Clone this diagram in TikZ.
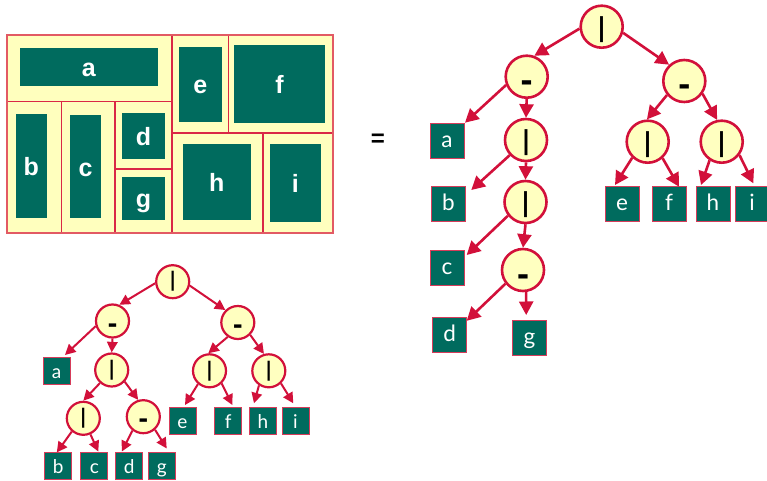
\documentclass[tikz,border=0pt]{standalone}
\usepackage{fontspec}
\setmainfont{Lato}
\newfontfamily\lsans{Liberation Sans}
\newfontfamily\dejav{DejaVu Sans}
\usetikzlibrary{arrows.meta}
\definecolor{crim}{RGB}{210,16,58}
\definecolor{cream}{RGB}{255,255,192}
\definecolor{laycream}{RGB}{255,255,190}
\definecolor{tgreen}{RGB}{0,107,94}
\definecolor{bborder}{RGB}{214,60,90}
\definecolor{layline}{RGB}{218,40,70}
\definecolor{layborder}{RGB}{226,90,100}
\newcommand\opV{\raisebox{-0.36em}{|}}
\newcommand\opH{\raisebox{-0.5em}{-}}
\newcommand\sopV{\raisebox{-0.26em}{|}}
\newcommand\sopH{\raisebox{-0.47em}{-}}
\tikzset{
  bcirc/.style={circle, draw=crim, line width=2.6pt, fill=cream, minimum size=42pt,
    inner sep=0pt, text height=0pt, text depth=0pt, font=\dejav\bfseries\fontsize{26}{26}\selectfont},
  bcircH/.style={bcirc, font=\dejav\bfseries\fontsize{30}{30}\selectfont},
  scirc/.style={circle, draw=crim, line width=2.2pt, fill=cream, minimum size=33pt,
    inner sep=0pt, text height=0pt, text depth=0pt, font=\dejav\bfseries\fontsize{20}{20}\selectfont},
  scircH/.style={scirc, font=\dejav\bfseries\fontsize{24}{24}\selectfont},
  bbox/.style={rectangle, fill=tgreen, draw=bborder, line width=1pt, minimum width=34pt,
    minimum height=35pt, inner sep=0pt, outer sep=0pt, text=white,
    text height=13.4pt, text depth=0pt, font=\fontsize{22.5}{22.5}\selectfont},
  sbox/.style={rectangle, fill=tgreen, draw=bborder, line width=0.9pt, minimum width=27pt,
    minimum height=27pt, inner sep=0pt, outer sep=0pt, text=white,
    text height=15pt, text depth=0pt, font=\fontsize{19}{19}\selectfont},
  lbox/.style={rectangle, fill=tgreen, inner sep=0pt, outer sep=0pt, text=white,
    text height=19pt, text depth=0pt, font=\lsans\bfseries\fontsize{25}{25}\selectfont},
  barrow/.style={draw=crim, line width=2.6pt, -{Triangle[length=13.5pt,width=14pt]}},
  sarrow/.style={draw=crim, line width=2pt, -{Triangle[length=10.5pt,width=10.5pt]}},
  layln/.style={draw=layline, line width=1.3pt},
}
\begin{document}
\begin{tikzpicture}[x=1pt,y=-1pt]
\useasboundingbox (0,0) rectangle (767,481);
% ---------- layout ----------
\fill[laycream] (6.7,35) rectangle (333,233);
\draw[layln] (172,35) -- (172,233);
\draw[layln] (6.7,101.7) -- (172,101.7);
\draw[layln] (61.7,101.7) -- (61.7,233);
\draw[layln] (115,101.7) -- (115,233);
\draw[layln] (115,169) -- (172,169);
\draw[layln] (228.7,35) -- (228.7,133);
\draw[layln] (172,133) -- (333,133);
\draw[layln] (263,133) -- (263,233);
\draw[draw=layborder, line width=1.6pt] (6.7,35) rectangle (333,233);
\node[lbox, minimum width=137.7pt, minimum height=38.3pt] (la) at (88.8,66.8) {a};
\node[lbox, minimum width=42.7pt, minimum height=74.7pt] (le) at (200.3,84.3) {e};
\node[lbox, minimum width=91pt, minimum height=77.7pt] (lf) at (279.5,83.8) {f};
\node[lbox, minimum width=30.7pt, minimum height=103.7pt] (lb) at (31.3,165.8) {b};
\node[lbox, minimum width=31pt, minimum height=103.3pt] (lc) at (85.5,166.7) {c};
\node[lbox, minimum width=43pt, minimum height=46pt] (ld) at (143.5,136) {d};
\node[lbox, minimum width=43pt, minimum height=42.7pt] (lg) at (143.5,198.3) {g};
\node[lbox, minimum width=68pt, minimum height=75.7pt] (lh) at (216.7,181.8) {h};
\node[lbox, minimum width=50.7pt, minimum height=77.7pt] (li) at (295.3,182.8) {i};
% equal sign
\node[font=\lsans\bfseries\fontsize{24}{24}\selectfont] (eq) at (378,140) {=};
% ---------- big tree ----------
\node[bcirc] (root) at (601.7,26.7) {\opV};
\node[bcircH] (L) at (526.7,76.7) {\opH};
\node[bcircH] (R) at (684.3,81) {\opH};
\node[bcirc] (L2) at (526,140) {\opV};
\node[bcirc] (L3) at (525.5,202) {\opV};
\node[bcircH] (M) at (523,270) {\opH};
\node[bcirc] (E) at (647.7,141.7) {\opV};
\node[bcirc] (H) at (721.7,141.7) {\opV};
\node[bbox] (ta) at (447,140.8) {a};
\node[bbox] (tb) at (448.3,204.2) {b};
\node[bbox] (tc) at (447,267.5) {c};
\node[bbox] (td) at (449.7,335) {d};
\node[bbox] (tg) at (529.5,338.2) {g};
\node[bbox] (te) at (622,204.2) {e};
\node[bbox] (tf) at (669,204.2) {f};
\node[bbox] (th) at (713,204.2) {h};
\node[bbox] (ti) at (752,204.2) {i};
\draw[barrow] (root.185) -- (L.70);
\draw[barrow] (root.-16) -- (R.133);
\draw[barrow] (L.202) -- ([shift={(35,-0.6)}]ta.north west);
\draw[barrow] (L.-90) -- (L2.90);
\draw[barrow] (L2.223) -- ([shift={(40,3.3)}]tb.north west);
\draw[barrow] (L2.-90) -- (L3.90);
\draw[barrow] (L3.218) -- ([shift={(36.7,5)}]tc.north west);
\draw[barrow] (L3.-90) -- (M.90);
\draw[barrow] (M.218) -- ([shift={(34,3.3)}]td.north west);
\draw[barrow] (M.-82) -- ([shift={(13.7,-5.7)}]tg.north west);
\draw[barrow] (R.219) -- (E.92);
\draw[barrow] (R.-35) -- (H.102);
\draw[barrow] (E.226) -- ([shift={(10,-1.7)}]te.north west);
\draw[barrow] (E.-48) -- ([shift={(27,0)}]tf.north west);
\draw[barrow] (H.237) -- ([shift={(5,-1.7)}]th.north west);
\draw[barrow] (H.-37) -- ([shift={(18.3,-3.4)}]ti.north west);
% ---------- small tree ----------
\node[scirc] (sroot) at (172.7,281.7) {\sopV};
\node[scircH] (sL) at (112.5,321) {\sopH};
\node[scircH] (sR) at (237.8,322.5) {\sopH};
\node[scirc] (sL2) at (111.7,370) {\sopV};
\node[scirc] (sL3) at (83.3,418.3) {\sopV};
\node[scircH] (sM) at (143.3,416.7) {\sopH};
\node[scirc] (sE) at (209.5,370.8) {\sopV};
\node[scirc] (sH) at (268.8,370.8) {\sopV};
\node[sbox] (sa) at (56.7,370.5) {a};
\node[sbox] (sb) at (58.3,466) {b};
\node[sbox] (sc) at (94.3,466) {c};
\node[sbox] (sd) at (129.3,466) {d};
\node[sbox] (sg) at (161.8,466) {g};
\node[sbox] (se) at (182.5,420.5) {e};
\node[sbox] (sf) at (228.3,420.5) {f};
\node[sbox] (sh) at (263,420.5) {h};
\node[sbox] (si) at (295.5,420.5) {i};
\draw[sarrow] (sroot.185) -- (sL.67);
\draw[sarrow] (sroot.-13) -- (sR.135);
\draw[sarrow] (sL.197) -- ([shift={(21.8,-2)}]sa.north west);
\draw[sarrow] (sL.-90) -- (sL2.90);
\draw[sarrow] (sL2.228) -- (sL3.90);
\draw[sarrow] (sL2.-42) -- (sM.107);
\draw[sarrow] (sL3.229) -- ([shift={(12,0)}]sb.north west);
\draw[sarrow] (sL3.-66) -- ([shift={(17.5,-1)}]sc.north west);
\draw[sarrow] (sM.232) -- ([shift={(6,-1)}]sd.north west);
\draw[sarrow] (sM.-48) -- ([shift={(18.4,-4)}]sg.north west);
\draw[sarrow] (sR.235) -- (sE.94);
\draw[sarrow] (sR.-45) -- (sH.106);
\draw[sarrow] (sE.229) -- ([shift={(16,-2)}]se.north west);
\draw[sarrow] (sE.-46) -- ([shift={(17.5,-2)}]sf.north west);
\draw[sarrow] (sH.236) -- ([shift={(4.5,-3.7)}]sh.north west);
\draw[sarrow] (sH.-46) -- ([shift={(11.3,-3.7)}]si.north west);
\end{tikzpicture}
\end{document}
